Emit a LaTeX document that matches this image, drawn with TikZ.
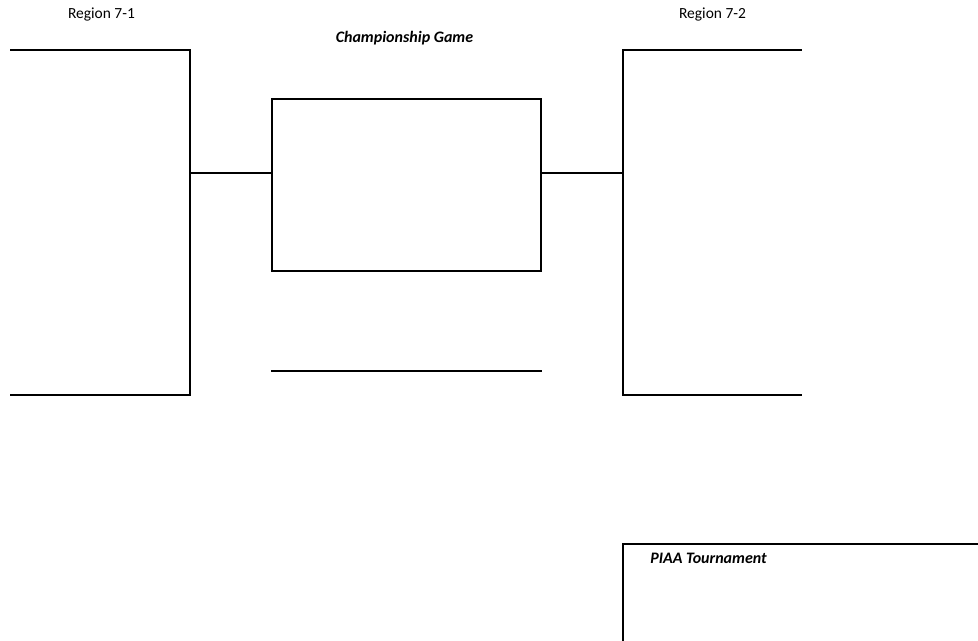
\documentclass[tikz,border=0pt]{standalone}
\usepackage{fontspec}
\setmainfont{Carlito}
\usetikzlibrary{positioning}

\tikzset{
    bracketline/.style={line width=1.6pt, line cap=rect},
    gamebox/.style={draw, line width=1.6pt, minimum width=201.75pt, minimum height=129pt, inner sep=0pt},
    regionlabel/.style={font=\fontsize{11.6}{13}\selectfont, inner sep=0pt},
    titlelabel/.style={font=\fontsize{12}{14}\selectfont\bfseries\itshape, inner sep=0pt}
}

\begin{document}
\begin{tikzpicture}[x=0.75pt, y=-0.75pt]
            % Frame to ensure alignment:
            \useasboundingbox                                  (0, 0) rectangle (978, 641);
            % Labels:
            \node[regionlabel]                (reg71)  at (101.5, 14.5) {Region 7-1};
            \node[regionlabel]                (reg72)  at (712.5, 14.5) {Region 7-2};
            \node[titlelabel]                 (champ)  at (404.5, 38.5) {Championship Game};
            \node[titlelabel, anchor=west]    (piaa)   at (650.0, 558.0) {PIAA Tournament};
            % Left bracket:
            \coordinate (ltop)  at ( 11,  50);  \coordinate (ltopc) at (190,  50);
            \coordinate (lbot)  at ( 11, 395);  \coordinate (lbotc) at (190, 395);
            \coordinate (lmid)  at (190, 173);
            \draw[bracketline] (ltop) -- (ltopc) -- (lbotc) -- (lbot);
            % Right bracket:
            \coordinate (rtop)  at (801,  50);  \coordinate (rtopc) at (623,  50);
            \coordinate (rbot)  at (801, 395);  \coordinate (rbotc) at (623, 395);
            \coordinate (rmid)  at (623, 173);
            \draw[bracketline] (rtop) -- (rtopc) -- (rbotc) -- (rbot);
            % Championship game:
            \node[gamebox]                    (final)  at (406.5, 185) {};
            \draw[bracketline] (lmid) -- (lmid -| final.west);
            \draw[bracketline] (rmid) -- (rmid -| final.east);
            \coordinate (wina)  at (272, 371);  \coordinate (winb)  at (541, 371);
            \draw[bracketline] (wina) -- (winb);
            % PIAA box:
            \coordinate (ptop)  at (978, 544);  \coordinate (ptopc) at (623, 544);
            \coordinate (pbot)  at (623, 641);
            \draw[bracketline] (ptop) -- (ptopc) -- (pbot);
        \end{tikzpicture}
\end{document}
